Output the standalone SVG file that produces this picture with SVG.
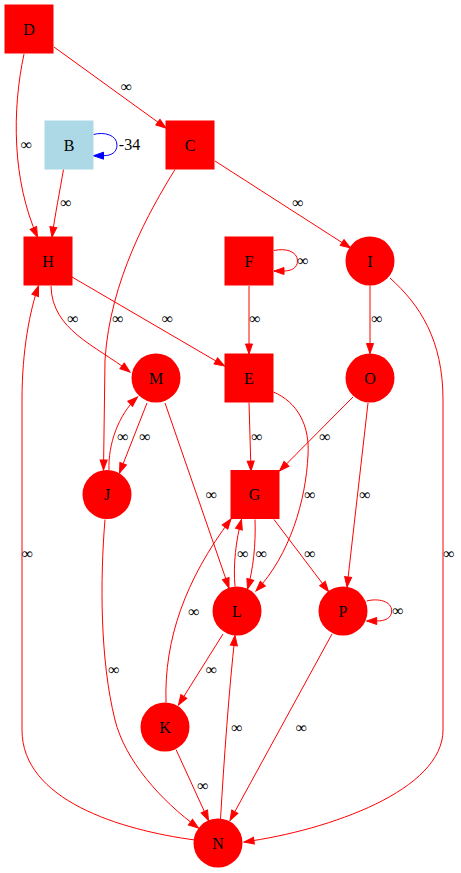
<svg xmlns="http://www.w3.org/2000/svg" width="461" height="873" viewBox="0 0 461 873">
  <style>
    .bg { fill: #ffffff; }
    .node { fill: #ff0000; stroke: none; }
    .light { fill: #add8e6; stroke: none; }
    .nlabel { font-family: "Liberation Serif", "Times New Roman", serif; font-size: 16px; fill: #000000; text-anchor: middle; }
    .edge { fill: none; stroke: #ff0000; stroke-width: 1; marker-end: url(#arrow); }
    .edge.blue { stroke: #0000ff; marker-end: url(#arrow-blue); }
    .elabel { font-family: "Liberation Serif", "Times New Roman", serif; font-size: 16px; fill: #000000; text-anchor: middle; }
  </style>
  <defs>
    <marker id="arrow" markerUnits="userSpaceOnUse" markerWidth="10" markerHeight="7" refX="10" refY="3.5" orient="auto" overflow="visible">
      <path d="M0,0 L10,3.5 L0,7 Z" fill="#ff0000" stroke="#ff0000" stroke-width="1"/>
    </marker>
    <marker id="arrow-blue" markerUnits="userSpaceOnUse" markerWidth="10" markerHeight="7" refX="10" refY="3.5" orient="auto" overflow="visible">
      <path d="M0,0 L10,3.5 L0,7 Z" fill="#0000ff" stroke="#0000ff" stroke-width="1"/>
    </marker>
  </defs>
  <rect class="bg" x="0" y="0" width="461" height="873"/>

  <!-- connectors -->
  <g id="edges">
    <g id="e-D-C"><path class="edge" d="M54,47 L166,128"/><text class="elabel" x="126.5" y="91.5">∞</text></g>
    <g id="e-D-H"><path class="edge" d="M24,54 C12,110 12,180 37.5,237"/><text class="elabel" x="26.5" y="149.5">∞</text></g>
    <g id="e-B-B"><path class="edge blue" d="M93.5,134.5 C104,131.5 117,135 117,145 C117,152.5 111,155.7 103.5,155.7 L93.5,155.7"/><text class="elabel" x="129.5" y="150.3">-34</text></g>
    <g id="e-B-H"><path class="edge" d="M63.5,169.5 C60,190 55,215 52,237"/><text class="elabel" x="66" y="207.5">∞</text></g>
    <g id="e-C-J"><path class="edge" d="M175,169.5 C150,210 110,280 105,360 L103.5,470"/><text class="elabel" x="118" y="323.5">∞</text></g>
    <g id="e-C-I"><path class="edge" d="M215,161 L350.5,248"/><text class="elabel" x="298" y="207.5">∞</text></g>
    <g id="e-H-M"><path class="edge" d="M51,286 C52,330 95,345 130,372"/><text class="elabel" x="73" y="323.5">∞</text></g>
    <g id="e-H-E"><path class="edge" d="M72,277 L224.5,366"/><text class="elabel" x="167.5" y="323.5">∞</text></g>
    <g id="e-F-F"><path class="edge" d="M274,250.5 C285,248 297.5,251 297.5,261 C297.5,268 291,271 284,271 L274,271"/><text class="elabel" x="303" y="265.5">∞</text></g>
    <g id="e-F-E"><path class="edge" d="M249,286 L249,354"/><text class="elabel" x="255" y="323.5">∞</text></g>
    <g id="e-I-O"><path class="edge" d="M370,285.5 L370,353.5"/><text class="elabel" x="377" y="323.5">∞</text></g>
    <g id="e-I-N"><path class="edge" d="M390,278 C420,305 443,340 443,400 L443,730 C443,790 330,830 244,842"/><text class="elabel" x="449" y="558.5">∞</text></g>
    <g id="e-J-M"><path class="edge" d="M109,470 C108,445 118,415 137.5,397"/><text class="elabel" x="123" y="441.5">∞</text></g>
    <g id="e-M-J"><path class="edge" d="M147,403 L119.5,473"/><text class="elabel" x="145" y="441.5">∞</text></g>
    <g id="e-M-L"><path class="edge" d="M165,403 L229,588"/><text class="elabel" x="211.5" y="499.5">∞</text></g>
    <g id="e-E-G"><path class="edge" d="M249,402.5 L251,471"/><text class="elabel" x="257" y="441.5">∞</text></g>
    <g id="e-E-L"><path class="edge" d="M273.5,392 C297,402 310,425 308,455 C306,500 290,555 256,591"/><text class="elabel" x="310" y="499.5">∞</text></g>
    <g id="e-O-G"><path class="edge" d="M353,397 L279.5,471"/><text class="elabel" x="325" y="441.5">∞</text></g>
    <g id="e-O-P"><path class="edge" d="M368,403 L347,587"/><text class="elabel" x="365" y="499.5">∞</text></g>
    <g id="e-J-N"><path class="edge" d="M105,519.5 C100,580 100,660 115,720 C125,760 160,800 198.5,828"/><text class="elabel" x="114" y="674.5">∞</text></g>
    <g id="e-N-H"><path class="edge" d="M195,840 C120,830 22,800 22,730 L22,400 C22,350 30,310 38.5,286"/><text class="elabel" x="27.5" y="558.5">∞</text></g>
    <g id="e-L-G"><path class="edge" d="M235,586.5 C233,565 236,540 241.5,519.5"/><text class="elabel" x="243" y="558.5">∞</text></g>
    <g id="e-G-L"><path class="edge" d="M255,519.5 C256,545 253,570 247.5,589"/><text class="elabel" x="261.5" y="558.5">∞</text></g>
    <g id="e-G-P"><path class="edge" d="M274,519.5 L328.5,591.5"/><text class="elabel" x="310" y="558.5">∞</text></g>
    <g id="e-K-G"><path class="edge" d="M166,702.5 C164,640 185,580 231,519"/><text class="elabel" x="194" y="616.5">∞</text></g>
    <g id="e-P-P"><path class="edge" d="M366.7,601 C378,598 391.7,601 391.7,611 C391.7,618 385,621 377,621 L366.7,621"/><text class="elabel" x="398" y="615.5">∞</text></g>
    <g id="e-L-K"><path class="edge" d="M223,634 L178.5,705"/><text class="elabel" x="211.5" y="674.5">∞</text></g>
    <g id="e-K-N"><path class="edge" d="M176,749.5 L208.5,820.5"/><text class="elabel" x="203" y="790.5">∞</text></g>
    <g id="e-N-L"><path class="edge" d="M220.5,819 C224,760 229,690 235,635.5"/><text class="elabel" x="237" y="732.5">∞</text></g>
    <g id="e-P-N"><path class="edge" d="M332,634 L230,820.5"/><text class="elabel" x="301.5" y="732.5">∞</text></g>
  </g>

  <!-- nodes -->
  <g id="node-D"><rect class="node" x="4.5" y="4.5" width="49" height="49"/><text class="nlabel" x="29" y="34.5">D</text></g>
  <g id="node-B"><rect class="light" x="44.5" y="120.5" width="49" height="49"/><text class="nlabel" x="69" y="150.5">B</text></g>
  <g id="node-C"><rect class="node" x="165.5" y="120.5" width="49" height="49"/><text class="nlabel" x="190" y="150.5">C</text></g>
  <g id="node-H"><rect class="node" x="23.5" y="236.5" width="49" height="49"/><text class="nlabel" x="48" y="266.5">H</text></g>
  <g id="node-F"><rect class="node" x="224.5" y="236.5" width="49" height="49"/><text class="nlabel" x="249" y="266.5">F</text></g>
  <g id="node-I"><circle class="node" cx="370" cy="261" r="24.5"/><text class="nlabel" x="370" y="266.5">I</text></g>
  <g id="node-M"><circle class="node" cx="156" cy="378" r="24.5"/><text class="nlabel" x="156" y="383.5">M</text></g>
  <g id="node-E"><rect class="node" x="224.5" y="353.5" width="49" height="49"/><text class="nlabel" x="249" y="383.5">E</text></g>
  <g id="node-O"><circle class="node" cx="370" cy="378" r="24.5"/><text class="nlabel" x="370" y="383.5">O</text></g>
  <g id="node-J"><circle class="node" cx="107" cy="494.5" r="24.5"/><text class="nlabel" x="107" y="500">J</text></g>
  <g id="node-G"><rect class="node" x="230.5" y="470" width="49" height="49"/><text class="nlabel" x="254.5" y="500">G</text></g>
  <g id="node-L"><circle class="node" cx="237" cy="611" r="24.5"/><text class="nlabel" x="237" y="616.5">L</text></g>
  <g id="node-P"><circle class="node" cx="343" cy="611" r="24.5"/><text class="nlabel" x="343" y="616.5">P</text></g>
  <g id="node-K"><circle class="node" cx="165" cy="727" r="24.5"/><text class="nlabel" x="165" y="732.5">K</text></g>
  <g id="node-N"><circle class="node" cx="218" cy="843" r="24.5"/><text class="nlabel" x="218" y="848.5">N</text></g>
</svg>
